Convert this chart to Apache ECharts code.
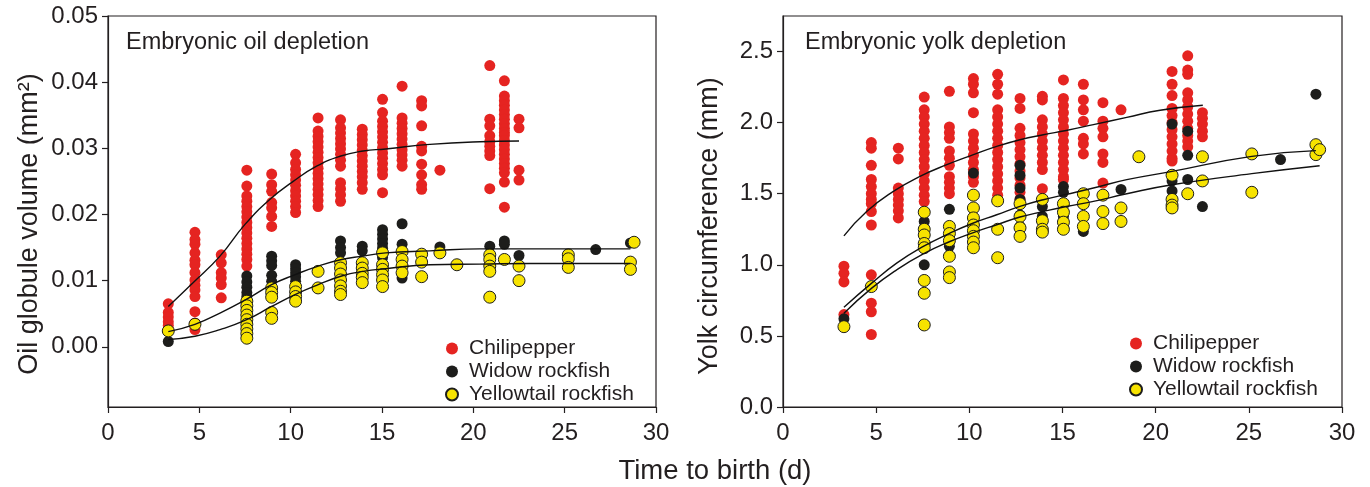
<!DOCTYPE html>
<html>
<head>
<meta charset="utf-8">
<title>Embryonic oil and yolk depletion</title>
<script src="https://cdn.jsdelivr.net/npm/echarts@6/dist/echarts.min.js"></script>
<style>
  html, body { margin: 0; padding: 0; background: #fff; }
  #main { width: 1370px; height: 487px; }
</style>
</head>
<body>
<div id="main"></div>
<script>
// 左图：油球体积 (mm2)，每一列 = 一个出生前天数
var oilChiliDays = [3.3, 4.76, 6.2, 7.6, 8.96, 10.27, 11.5, 12.73, 13.92, 15.03, 16.1, 17.17, 18.17, 20.9, 21.7, 22.5];
var oilChiliVals = [
  [0.0065, 0.0052, 0.0045, 0.0038, 0.0032, 0.0026],
  [0.0173, 0.0162, 0.0155, 0.0142, 0.0131, 0.0124, 0.0112, 0.0101, 0.0093, 0.0086, 0.0076, 0.0053, 0.0036, 0.0026],
  [0.0139, 0.0127, 0.0112, 0.0104, 0.0094, 0.0074],
  [0.0267, 0.0243, 0.0228, 0.0220, 0.0212, 0.0204, 0.0196, 0.0188, 0.0180, 0.0172, 0.0164, 0.0156, 0.0148, 0.0140, 0.0132, 0.0122],
  [0.0261, 0.0245, 0.0235, 0.0218, 0.0210, 0.0197, 0.0182],
  [0.0291, 0.0278, 0.0268, 0.0260, 0.0252, 0.0244, 0.0236, 0.0228, 0.0220, 0.0212, 0.0203],
  [0.0346, 0.0326, 0.0318, 0.0310, 0.0302, 0.0294, 0.0286, 0.0278, 0.0270, 0.0262, 0.0254, 0.0246, 0.0238, 0.0230, 0.0221, 0.0212],
  [0.0343, 0.0331, 0.0323, 0.0315, 0.0307, 0.0299, 0.0291, 0.0282, 0.0273, 0.0248, 0.0239, 0.0230, 0.0220],
  [0.0329, 0.0321, 0.0313, 0.0305, 0.0297, 0.0289, 0.0281, 0.0273, 0.0265, 0.0257, 0.0248, 0.0238],
  [0.0374, 0.0354, 0.0341, 0.0333, 0.0325, 0.0317, 0.0309, 0.0301, 0.0293, 0.0285, 0.0277, 0.0268, 0.0260, 0.0233],
  [0.0394, 0.0346, 0.0338, 0.0330, 0.0322, 0.0314, 0.0306, 0.0298, 0.0290, 0.0282, 0.0273],
  [0.0372, 0.0364, 0.0334, 0.0303, 0.0296, 0.0276, 0.0260, 0.0245, 0.0238],
  [0.0267],
  [0.0425, 0.0344, 0.0334, 0.0319, 0.0310, 0.0303, 0.0296, 0.0289, 0.0239],
  [0.0402, 0.0379, 0.0372, 0.0365, 0.0358, 0.0351, 0.0344, 0.0337, 0.0330, 0.0324, 0.0319, 0.0312, 0.0305, 0.0298, 0.0291, 0.0284, 0.0277, 0.0270, 0.0263, 0.0249, 0.0211],
  [0.0344, 0.0331, 0.0267, 0.0252]
];
var oilWidowDays = [3.3, 7.6, 8.96, 10.27, 12.73, 13.92, 15.03, 16.1, 18.17, 20.9, 21.7, 22.5, 26.7, 28.6];
var oilWidowVals = [
  [0.0008],
  [0.0107, 0.0098, 0.0090, 0.0082, 0.0076],
  [0.0137, 0.0130, 0.0123, 0.0108, 0.0099],
  [0.0124, 0.0118, 0.0112, 0.0106, 0.0099, 0.0092, 0.0085, 0.0078, 0.0071],
  [0.0160, 0.0150, 0.0142],
  [0.0152, 0.0145],
  [0.0177, 0.0170, 0.0163, 0.0156, 0.0149, 0.0142, 0.0135],
  [0.0186, 0.0155, 0.0104],
  [0.0151],
  [0.0152],
  [0.0160, 0.0155],
  [0.0138],
  [0.0147],
  [0.0157]
];
var oilYellowDays = [3.3, 4.76, 7.6, 8.96, 10.27, 11.5, 12.73, 13.92, 15.03, 16.1, 17.17, 18.17, 19.1, 20.9, 21.7, 22.5, 25.2, 28.6, 28.8];
var oilYellowVals = [
  [0.0024],
  [0.0034],
  [0.0069, 0.0062, 0.0055, 0.0048, 0.0041, 0.0034, 0.0027, 0.0020, 0.0013],
  [0.0089, 0.0082, 0.0075, 0.0052, 0.0043],
  [0.0091, 0.0083, 0.0076, 0.0069],
  [0.0114, 0.0089],
  [0.0127, 0.0119, 0.0110, 0.0101, 0.0092, 0.0084, 0.0079],
  [0.0127, 0.0119, 0.0111, 0.0105, 0.0097],
  [0.0142, 0.0124, 0.0117, 0.0109, 0.0101, 0.0091],
  [0.0144, 0.0132, 0.0122, 0.0112],
  [0.0140, 0.0128, 0.0106],
  [0.0142],
  [0.0124],
  [0.0139, 0.0132, 0.0122, 0.0114, 0.0075],
  [0.0132],
  [0.0122, 0.0100],
  [0.0139, 0.0133, 0.0120],
  [0.0128, 0.0117],
  [0.0158]
];
// 拟合曲线
var oilChiliFitX = [3.3, 4.67, 6.13, 7.5, 8.87, 10.14, 11.42, 12.7, 13.97, 15.2, 17.62, 20.36, 22.5];
var oilChiliFitY = [0.0061, 0.0097, 0.0137, 0.0185, 0.0223, 0.0250, 0.0273, 0.0288, 0.0296, 0.0299, 0.0306, 0.0310, 0.0311];
var oilWidowFitX = [3.3, 4.76, 6.13, 7.59, 8.96, 10.24, 11.51, 12.79, 13.97, 15.2, 17.62, 20.36, 23.1, 28.6];
var oilWidowFitY = [0.0023, 0.0034, 0.0051, 0.0072, 0.0094, 0.0109, 0.0122, 0.0132, 0.0137, 0.0142, 0.0145, 0.0148, 0.0148, 0.0148];
var oilYellowFitX = [3.3, 4.76, 6.13, 7.59, 8.96, 10.24, 11.51, 12.79, 13.97, 15.2, 17.62, 20.36, 23.1, 28.6];
var oilYellowFitY = [0.0011, 0.0016, 0.0026, 0.0041, 0.0061, 0.0079, 0.0094, 0.0107, 0.0114, 0.0118, 0.0124, 0.0125, 0.0126, 0.0126];

// 右图：卵黄周长 (mm)
var yolkChiliDays = [3.27, 4.74, 6.19, 7.58, 8.93, 10.22, 11.52, 12.72, 13.92, 15.05, 16.12, 17.17, 18.14, 20.88, 21.72, 22.51];
var yolkChiliVals = [
  [0.99, 0.94, 0.88, 0.65],
  [1.86, 1.82, 1.70, 1.60, 1.55, 1.50, 1.46, 1.43, 1.375, 1.28, 0.93, 0.73, 0.67, 0.51],
  [1.82, 1.745, 1.54, 1.50, 1.46, 1.42, 1.38, 1.33],
  [2.18, 2.09, 2.04, 1.99, 1.94, 1.89, 1.84, 1.79, 1.74, 1.69, 1.64, 1.59, 1.54, 1.49, 1.445],
  [2.22, 1.97, 1.93, 1.89, 1.80, 1.75, 1.70, 1.62, 1.58, 1.54, 1.50],
  [2.31, 2.27, 2.21, 2.07, 1.92, 1.87, 1.82, 1.77, 1.72, 1.67, 1.62, 1.58],
  [2.34, 2.27, 2.20, 2.09, 2.04, 1.99, 1.94, 1.89, 1.84, 1.79, 1.74, 1.69, 1.64, 1.59, 1.54, 1.49, 1.46],
  [2.17, 2.10, 1.96, 1.91, 1.86, 1.81, 1.76, 1.71, 1.66, 1.61, 1.56, 1.51, 1.46],
  [2.185, 2.16, 2.02, 1.97, 1.92, 1.87, 1.82, 1.77, 1.72, 1.67, 1.535],
  [2.30, 2.17, 2.12, 2.07, 2.02, 1.97, 1.92, 1.87, 1.82, 1.77, 1.72, 1.67, 1.62, 1.60],
  [2.27, 2.16, 2.09, 2.01, 1.89, 1.85, 1.78],
  [2.14, 2.01, 1.96, 1.90, 1.78, 1.72, 1.575],
  [2.09],
  [2.36, 2.27, 2.19, 2.10, 2.05, 2.00, 1.95, 1.90, 1.85, 1.80, 1.75, 1.73],
  [2.47, 2.37, 2.34, 2.21, 2.16, 2.11, 2.06, 2.01, 1.96, 1.91, 1.87, 1.83],
  [2.07, 2.03, 1.99, 1.94, 1.90]
];
var yolkWidowDays = [3.27, 7.58, 8.93, 10.22, 12.72, 13.92, 15.05, 16.12, 18.14, 20.88, 21.72, 22.51, 26.7, 28.6];
var yolkWidowVals = [
  [0.62],
  [1.305, 1.00],
  [1.39, 1.13],
  [1.645, 1.21],
  [1.70, 1.63, 1.54, 1.46, 1.35, 1.27],
  [1.41, 1.34],
  [1.55, 1.51, 1.43, 1.34, 1.27],
  [1.235],
  [1.53],
  [1.99, 1.59, 1.52],
  [1.94, 1.77, 1.60],
  [1.41],
  [1.74],
  [2.20]
];
var yolkYellowDays = [3.27, 4.74, 7.58, 8.93, 10.22, 11.52, 12.72, 13.92, 15.05, 16.12, 17.17, 18.14, 19.1, 20.88, 21.72, 22.51, 25.16, 28.6, 28.8];
var yolkYellowVals = [
  [0.565],
  [0.847],
  [1.37, 1.25, 1.21, 1.15, 1.12, 0.89, 0.80, 0.577],
  [1.27, 1.22, 1.17, 1.06, 0.95, 0.91],
  [1.49, 1.40, 1.33, 1.28, 1.24, 1.20, 1.16, 1.12],
  [1.45, 1.25, 1.05],
  [1.43, 1.34, 1.26, 1.20],
  [1.46, 1.31, 1.25, 1.23],
  [1.43, 1.37, 1.30, 1.25],
  [1.50, 1.43, 1.34, 1.27],
  [1.49, 1.375, 1.29],
  [1.40, 1.305],
  [1.76],
  [1.63, 1.46, 1.42, 1.40],
  [1.50],
  [1.76, 1.59],
  [1.78, 1.51],
  [1.845, 1.775],
  [1.81]
];
var yolkChiliFitX = [3.27, 4.49, 5.92, 7.35, 8.79, 10.22, 11.47, 12.72, 13.97, 15.2, 16.66, 18.45, 20.24, 22.53];
var yolkChiliFitY = [1.204, 1.375, 1.516, 1.622, 1.704, 1.775, 1.833, 1.880, 1.915, 1.945, 1.986, 2.037, 2.087, 2.122];
var yolkWidowFitX = [3.27, 4.76, 6.10, 7.53, 8.96, 10.22, 11.47, 12.72, 13.97, 15.2, 16.66, 18.45, 20.88, 25.16, 28.6];
var yolkWidowFitY = [0.702, 0.871, 1.012, 1.129, 1.223, 1.294, 1.352, 1.411, 1.458, 1.495, 1.540, 1.599, 1.657, 1.763, 1.803];
var yolkYellowFitX = [3.27, 4.76, 6.10, 7.53, 8.96, 10.22, 11.47, 12.72, 13.97, 15.2, 16.66, 18.45, 20.88, 25.16, 28.8];
var yolkYellowFitY = [0.660, 0.836, 0.965, 1.077, 1.164, 1.227, 1.282, 1.336, 1.375, 1.41, 1.446, 1.500, 1.563, 1.641, 1.697];

var oilTicks = [0, 0.01, 0.02, 0.03, 0.04, 0.05];
var names = ["Chilipepper", "Widow rockfish", "Yellowtail rockfish"];

(function () {
  var myChart = echarts.init(document.getElementById("main"));
  var font = "Liberation Sans";
  var ink = "#231f20";

  // 把每列的值展开成 [x, y]
  function cols(days, vals) {
    var out = [];
    days.forEach(function (d, i) {
      vals[i].forEach(function (v) { out.push([d, v]); });
    });
    return out;
  }
  function zip(xs, ys) {
    return xs.map(function (x, i) { return [x, ys[i]]; });
  }

  var red = { color: "#e52421", opacity: 1 };
  var black = { color: "#1d1d1b", opacity: 1 };
  var yellow = { color: "#f7e300", borderColor: "#1d1d1b", borderWidth: 1, opacity: 1 };

  function dots(name, idx, data, style, size) {
    return {
      name: name, type: "scatter", xAxisIndex: idx, yAxisIndex: idx,
      data: data, symbolSize: size, itemStyle: style, z: 2
    };
  }
  // 拟合线：平滑折线
  function fit(idx, data) {
    return {
      type: "line", xAxisIndex: idx, yAxisIndex: idx, data: data,
      smooth: 0.5, showSymbol: false, silent: true,
      lineStyle: { color: "#111", width: 1.4 }, z: 5
    };
  }

  function xAxis(idx) {
    return {
      gridIndex: idx, type: "value", min: 0, max: 30, interval: 5,
      axisLine: { onZero: false, lineStyle: { color: ink, width: 1.2 } },
      axisTick: { length: 6, lineStyle: { color: ink, width: 1.2 } },
      axisLabel: { color: ink, fontSize: 24, fontFamily: font, margin: 14 },
      splitLine: { show: false }
    };
  }

  var legendBase = {
    orient: "vertical", data: names, icon: "circle",
    itemWidth: 12, itemHeight: 12, itemGap: 2,
    textStyle: { color: ink, fontSize: 21, fontFamily: font, padding: [0, 0, 0, 6] }
  };

  var option = {
    animation: false,
    grid: [
      { left: 108, top: 16, width: 548, height: 391, show: true, borderColor: ink, borderWidth: 1.2 },
      { left: 783, top: 16, width: 559, height: 391, show: true, borderColor: ink, borderWidth: 1.2 }
    ],
    xAxis: [xAxis(0), xAxis(1)],
    yAxis: [
      {
        gridIndex: 0, type: "value", min: -0.0091, max: 0.05,
        axisLine: { show: true, onZero: false, lineStyle: { color: ink, width: 1.2 } },
        axisTick: { show: true, length: 6, customValues: oilTicks, lineStyle: { color: ink, width: 1.2 } },
        axisLabel: {
          color: ink, fontSize: 24, fontFamily: font, margin: 10, customValues: oilTicks,
          formatter: function (v) { return v.toFixed(2); }
        },
        splitLine: { show: false }
      },
      {
        gridIndex: 1, type: "value", min: 0, max: 2.75, interval: 0.5,
        axisLine: { show: true, onZero: false, lineStyle: { color: ink, width: 1.2 } },
        axisTick: { show: true, length: 6, lineStyle: { color: ink, width: 1.2 } },
        axisLabel: {
          color: ink, fontSize: 24, fontFamily: font, margin: 10, showMaxLabel: false,
          formatter: function (v) { return v.toFixed(1); }
        },
        splitLine: { show: false }
      }
    ],
    legend: [
      echarts.util.merge({ left: 440, top: 333 }, legendBase),
      echarts.util.merge({ left: 1124, top: 328 }, legendBase)
    ],
    series: [
      dots(names[0], 0, cols(oilChiliDays, oilChiliVals), red, 11),
      dots(names[1], 0, cols(oilWidowDays, oilWidowVals), black, 11),
      dots(names[2], 0, cols(oilYellowDays, oilYellowVals), yellow, 12),
      fit(0, zip(oilChiliFitX, oilChiliFitY)),
      fit(0, zip(oilWidowFitX, oilWidowFitY)),
      fit(0, zip(oilYellowFitX, oilYellowFitY)),
      dots(names[0], 1, cols(yolkChiliDays, yolkChiliVals), red, 11),
      dots(names[1], 1, cols(yolkWidowDays, yolkWidowVals), black, 11),
      dots(names[2], 1, cols(yolkYellowDays, yolkYellowVals), yellow, 12),
      fit(1, zip(yolkChiliFitX, yolkChiliFitY)),
      fit(1, zip(yolkWidowFitX, yolkWidowFitY)),
      fit(1, zip(yolkYellowFitX, yolkYellowFitY))
    ],
    graphic: [
      { type: "text", x: 126, y: 43, style: { text: "Embryonic oil depletion", fill: ink, fontSize: 23.5, fontFamily: font, verticalAlign: "middle" } },
      { type: "text", x: 805, y: 43, style: { text: "Embryonic yolk depletion", fill: ink, fontSize: 23.5, fontFamily: font, verticalAlign: "middle" } },
      { type: "text", x: 30, y: 224, rotation: Math.PI / 2, style: { text: "Oil globule volume (mm\u00b2)", fill: ink, fontSize: 27, fontFamily: font, align: "center", verticalAlign: "middle" } },
      { type: "text", x: 710, y: 226, rotation: Math.PI / 2, style: { text: "Yolk circumference (mm)", fill: ink, fontSize: 27, fontFamily: font, align: "center", verticalAlign: "middle" } },
      { type: "text", x: 715, y: 471, style: { text: "Time to birth (d)", fill: ink, fontSize: 27.5, fontFamily: font, align: "center", verticalAlign: "middle" } }
    ]
  };

  myChart.setOption(option);
  window.addEventListener("resize", function () {
    myChart.resize();
  });
})();
</script>
</body>
</html>
